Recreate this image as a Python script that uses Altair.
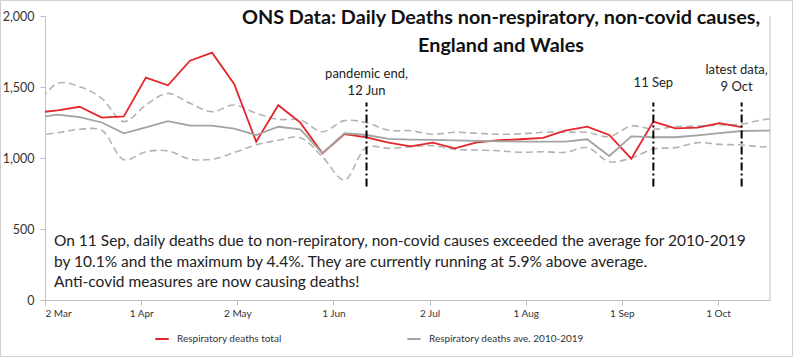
import altair as alt
import pandas as pd

# ---- data (weekly, week ending Friday) ----
dates = [
    "2020-02-28", "2020-03-06", "2020-03-13", "2020-03-20", "2020-03-27",
    "2020-04-03", "2020-04-10", "2020-04-17", "2020-04-24", "2020-05-01",
    "2020-05-08", "2020-05-15", "2020-05-22", "2020-05-29", "2020-06-05",
    "2020-06-12", "2020-06-19", "2020-06-26", "2020-07-03", "2020-07-10",
    "2020-07-17", "2020-07-24", "2020-07-31", "2020-08-07", "2020-08-14",
    "2020-08-21", "2020-08-28", "2020-09-04", "2020-09-11", "2020-09-18",
    "2020-09-25", "2020-10-02", "2020-10-09", "2020-10-16", "2020-10-23",
]
total_2020 = [
    1318, 1336, 1361, 1284, 1293, 1566, 1512, 1685, 1742, 1521,
    1115, 1372, 1249, 1033, 1169, 1146, 1108, 1082, 1108, 1068,
    1110, 1125, 1132, 1141, 1192, 1221, 1162, 995, 1256, 1209,
    1214, 1246, 1218,
]
avg_2010_2019 = [
    1285, 1305, 1288, 1250, 1174, 1215, 1259, 1228, 1228, 1207,
    1162, 1220, 1202, 1033, 1174, 1162, 1134, 1130, 1127, 1124,
    1120, 1118, 1115, 1115, 1116, 1132, 1014, 1152, 1146, 1146,
    1160, 1175, 1190, 1193, 1193,
]
max_2010_2019 = [
    1360, 1526, 1502, 1420, 1256, 1373, 1455, 1385, 1326, 1373,
    1315, 1272, 1268, 1185, 1263, 1249, 1195, 1192, 1167, 1181,
    1174, 1167, 1170, 1181, 1181, 1181, 1150, 1225, 1202, 1221,
    1225, 1232, 1239, 1270, 1280,
]
min_2010_2019 = [
    1158, 1178, 1202, 1195, 988, 1044, 1050, 992, 991, 1038,
    1092, 1125, 1143, 1009, 845, 1075, 1068, 1080, 1087, 1061,
    1056, 1051, 1040, 1044, 1040, 1073, 974, 1000, 1063, 1073,
    1108, 1096, 1092, 1078, 1095,
]
series_names = ["Respiratory deaths total", "Respiratory deaths ave. 2010-2019"]

marker_dates = ["2020-06-12", "2020-09-11", "2020-10-09"]
marker_texts = [["pandemic end,", "12 Jun"], ["11 Sep"], ["latest data,", "9 Oct"]]

title_lines = ["ONS Data: Daily Deaths non-respiratory, non-covid causes,", "England and Wales"]
note_lines = [
    "On 11 Sep, daily deaths due to non-repiratory, non-covid causes exceeded the average for 2010-2019",
    "by 10.1% and the maximum by 4.4%. They are currently running at 5.9% above average.",
    "Anti-covid measures are now causing deaths!",
]
y_ticks = [0, 500, 1000, 1500, 2000]

# ---- styling ----
FONT = "Lato"
RED = "#e3262b"
GREY = "#a3a3a3"
DASH_GREY = "#b3b3b3"
AXIS_GREY = "#bfbfbf"
W, H = 725, 284

main_df = pd.DataFrame({
    "date": dates[:len(total_2020)] + dates,
    "value": total_2020 + avg_2010_2019,
    "series": [series_names[0]] * len(total_2020) + [series_names[1]] * len(dates),
})
band_df = pd.DataFrame({
    "date": dates + dates,
    "value": max_2010_2019 + min_2010_2019,
    "bound": ["max"] * len(dates) + ["min"] * len(dates),
})

def dt(y, m, d, h=0):
    return alt.DateTime(year=y, month=m, date=d, hours=h, utc=True)

tick_values = [dt(2020, 3, 2), dt(2020, 4, 1, 12), dt(2020, 5, 2), dt(2020, 6, 1, 12),
               dt(2020, 7, 2), dt(2020, 8, 1, 12), dt(2020, 9, 1), dt(2020, 10, 1, 12)]

x_enc = alt.X(
    "date:T",
    scale=alt.Scale(type="utc", domain=[dt(2020, 3, 2), dt(2020, 10, 18)]),
    axis=alt.Axis(
        values=tick_values, labelExpr="utcFormat(datum.value, '%-d %b')",
        title=None, grid=False, domainColor=AXIS_GREY, tickColor=AXIS_GREY,
        tickSize=5, labelFontSize=10, labelFont=FONT, labelColor="#333333",
        labelPadding=3, labelOverlap=False,
    ),
)
y_enc = alt.Y(
    "value:Q",
    scale=alt.Scale(domain=[0, 2000], nice=False, zero=True),
    axis=alt.Axis(
        values=y_ticks, labelExpr="format(datum.value, ',.0f')", title=None, grid=False,
        domainColor=AXIS_GREY, tickColor=AXIS_GREY, tickSize=5,
        labelFontSize=12.5, labelFont=FONT, labelColor="#333333", labelPadding=6,
    ),
)

band = alt.Chart(band_df).mark_line(
    strokeDash=[7, 4], strokeWidth=1.6, color=DASH_GREY, interpolate="catmull-rom", clip=True
).encode(x=x_enc, y=y_enc, detail="bound:N")

color_scale = alt.Scale(domain=series_names, range=[RED, GREY])
lines = alt.Chart(main_df).mark_line(strokeWidth=1.8, clip=True).encode(
    x=x_enc, y=y_enc,
    color=alt.Color(
        "series:N", scale=color_scale,
        legend=alt.Legend(
            title=None, orient="none", direction="horizontal",
            legendX=109, legendY=315, symbolType="stroke", symbolSize=180,
            symbolStrokeWidth=2, labelFontSize=10, labelFont=FONT,
            labelColor="#333333", columnPadding=121, labelOffset=7, labelLimit=400,
        ),
    ),
    order=alt.Order("series:N", sort="descending"),
)

marker_df = pd.DataFrame({"date": marker_dates})
markers = alt.Chart(marker_df).mark_rule(
    color="black", strokeWidth=2, strokeDash=[8, 3, 2, 3]
).encode(x="date:T", y=alt.datum(800), y2=alt.datum(1390))

label_y = [58, 67, 54]
label_dx = [0, 0, -5]
labels = []
for d, t, yy, dx in zip(marker_dates, marker_texts, label_y, label_dx):
    labels.append(
        alt.Chart(pd.DataFrame({"date": [d]})).mark_text(
            text=t, font=FONT, fontSize=13, lineHeight=17, baseline="middle",
            align="center", color="#222222", dx=dx,
        ).encode(x="date:T", y=alt.value(yy))
    )

one = pd.DataFrame({"a": [0]})
title = alt.Chart(one).mark_text(
    text=title_lines, font=FONT, fontSize=19.8, fontWeight="bold", lineHeight=28,
    baseline="middle", align="center", color="#111111",
).encode(x=alt.value(456), y=alt.value(2))

note = alt.Chart(one).mark_text(
    text=note_lines, font=FONT, fontSize=15.5, lineHeight=20.5,
    baseline="middle", align="left", color="#222222",
).encode(x=alt.value(9), y=alt.value(225))

right_border = alt.Chart(one).mark_rule(color=AXIS_GREY, strokeWidth=1).encode(
    x=alt.value(W), y=alt.value(0), y2=alt.value(H)
)
frame = alt.Chart(one).mark_rect(
    fillOpacity=0, stroke="#d0d0d0", strokeWidth=1, clip=False
).encode(x=alt.value(-44.5), x2=alt.value(747.5), y=alt.value(-15.5), y2=alt.value(340.5))

chart = alt.layer(
    frame, right_border, band, lines, markers, *labels, title, note
).properties(
    width=W, height=H,
    autosize=alt.AutoSizeParams(type="none"),
    padding={"left": 45, "top": 16, "right": 23, "bottom": 57},
    background="white",
).configure_view(stroke=None).configure_axis(grid=False)

chart.save("out.html", embed_options={"renderer": "svg", "actions": False})
